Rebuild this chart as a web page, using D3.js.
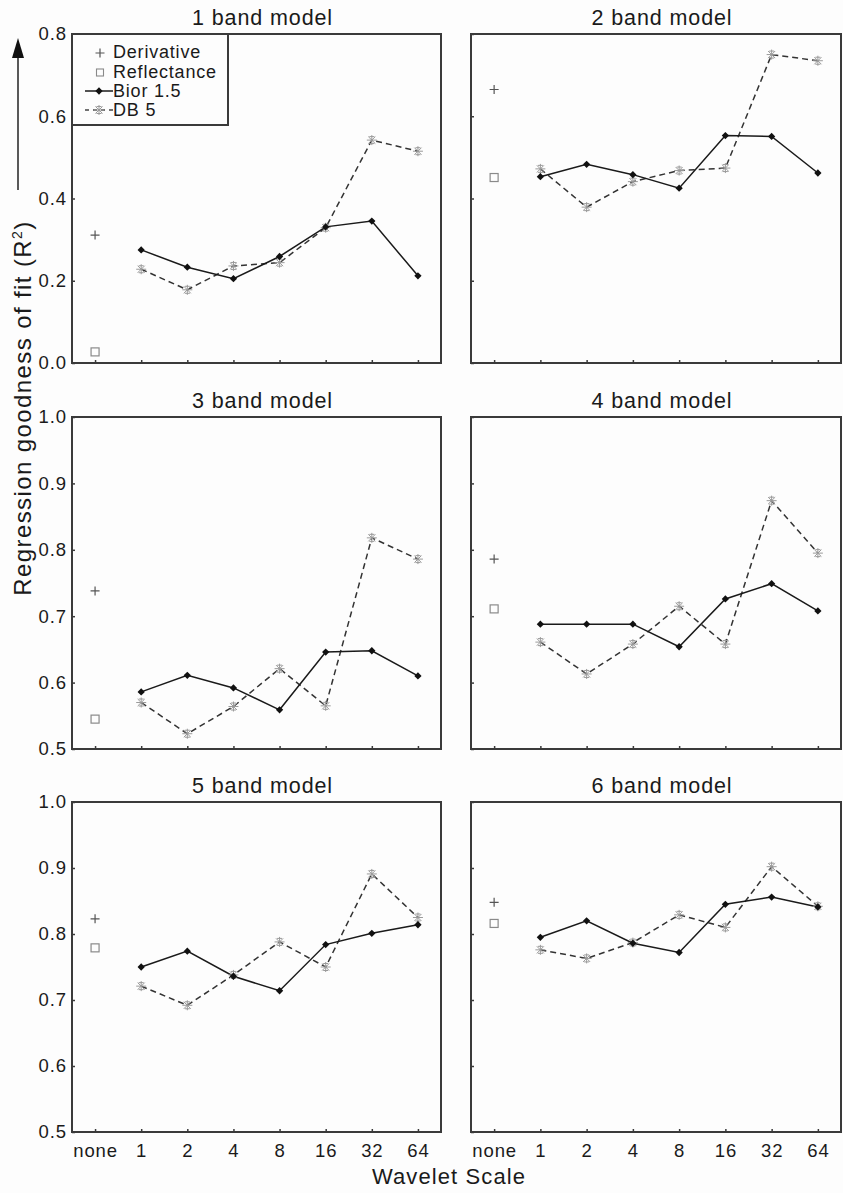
<!DOCTYPE html>
<html><head><meta charset="utf-8">
<script src="https://cdn.jsdelivr.net/npm/d3@7"></script>
<style>body{margin:0;background:#fdfdfd;}svg{display:block;font-family:Arial,"Liberation Sans",sans-serif;}</style>
</head><body>
<svg id="c" width="843" height="1193"></svg>
<script>
const scales = ["none","1","2","4","8","16","32","64"];
const waveletScales = ["1","2","4","8","16","32","64"];
const panelTitles = ["1 band model","2 band model","3 band model","4 band model","5 band model","6 band model"];
const derivative = [0.311, 0.665, 0.738, 0.786, 0.823, 0.848];
const reflectance = [0.027, 0.451, 0.545, 0.711, 0.779, 0.816];
const bior = [
  [0.275,0.233,0.205,0.259,0.331,0.345,0.212],
  [0.453,0.483,0.458,0.425,0.553,0.551,0.462],
  [0.586,0.611,0.592,0.559,0.646,0.648,0.610],
  [0.688,0.688,0.688,0.654,0.726,0.749,0.708],
  [0.750,0.774,0.736,0.714,0.784,0.801,0.814],
  [0.795,0.820,0.786,0.772,0.845,0.856,0.841]
];
const db5 = [
  [0.228,0.178,0.236,0.244,0.329,0.542,0.515],
  [0.472,0.379,0.441,0.468,0.474,0.750,0.735],
  [0.570,0.523,0.564,0.621,0.565,0.818,0.786],
  [0.661,0.613,0.658,0.715,0.658,0.874,0.795],
  [0.721,0.692,0.738,0.788,0.750,0.891,0.825],
  [0.776,0.763,0.787,0.829,0.810,0.902,0.842]
];
const yDomains = [[0,0.8],[0,0.8],[0.5,1.0],[0.5,1.0],[0.5,1.0],[0.5,1.0]];
const yTickValues = [[0,0.2,0.4,0.6,0.8],[0,0.2,0.4,0.6,0.8],[0.5,0.6,0.7,0.8,0.9,1.0],[0.5,0.6,0.7,0.8,0.9,1.0],[0.5,0.6,0.7,0.8,0.9,1.0],[0.5,0.6,0.7,0.8,0.9,1.0]];
const legendLabels = ["Derivative","Reflectance","Bior 1.5","DB 5"];

const svg = d3.select("#c");
svg.append("rect").attr("width",843).attr("height",1193).attr("fill","#fdfdfd");

const colX = [[72,441],[471,841]];
const rowY = [[34,363],[417,749],[802,1132]];
const frameColor = "#3a3a3a";
const txt = "#1a1a1a";

const diamond = d3.symbol().type(d3.symbolDiamond2).size(34)();
function asterisk(g, x, y){
  const r = 5;
  const a = g.append("g").attr("transform",`translate(${x},${y})`).attr("stroke","#9a9a9a").attr("stroke-width",1);
  [0,45,90,135].forEach(ang=>{
    const t = ang*Math.PI/180;
    a.append("line").attr("x1",-r*Math.cos(t)).attr("y1",-r*Math.sin(t)).attr("x2",r*Math.cos(t)).attr("y2",r*Math.sin(t));
  });
  a.append("line").attr("x1",-2.5).attr("x2",2.5).attr("y1",-3.5).attr("y2",-3.5);
  a.append("line").attr("x1",-2.5).attr("x2",2.5).attr("y1",3.5).attr("y2",3.5);
}
function plus(g,x,y,c){
  g.append("path").attr("d","M-4.5,0H4.5M0,-4.5V4.5").attr("transform",`translate(${x},${y})`).attr("stroke",c||"#555").attr("stroke-width",1.2).attr("fill","none");
}
function square(g,x,y){
  g.append("rect").attr("x",x-4).attr("y",y-4).attr("width",8).attr("height",8).attr("fill","none").attr("stroke","#8a8a8a").attr("stroke-width",1.2);
}

panelTitles.forEach((title,i)=>{
  const col = i%2, row = Math.floor(i/2);
  const [x0,x1] = colX[col], [y0,y1] = rowY[row];
  const x = d3.scalePoint().domain(scales).range([x0,x1]).padding(0.5);
  const y = d3.scaleLinear().domain(yDomains[i]).range([y1,y0]);
  const g = svg.append("g");

  g.append("text").attr("x",(x0+x1)/2+6).attr("y",y0-9).attr("text-anchor","middle")
    .attr("font-size",21.5).attr("letter-spacing",0.9).attr("fill",txt).text(title);

  const yAx = d3.axisLeft(y).tickValues(yTickValues[i]).tickFormat(d3.format(".1f")).tickSizeInner(-3).tickSizeOuter(0).tickPadding(col===0?5:0);
  const ya = g.append("g").attr("transform",`translate(${x0},0)`).call(yAx);
  ya.select(".domain").remove();
  ya.selectAll("line").attr("stroke",frameColor).attr("stroke-width",1.5);
  ya.selectAll("text").attr("font-size",18.5).attr("letter-spacing",0.9).attr("fill",txt).attr("font-family","Arial,'Liberation Sans',sans-serif");
  if(col===1) ya.selectAll("text").remove();

  const xAx = d3.axisBottom(x).tickSizeInner(-3).tickSizeOuter(0).tickPadding(12);
  const xa = g.append("g").attr("transform",`translate(0,${y1})`).call(xAx);
  xa.select(".domain").remove();
  xa.selectAll("line").attr("stroke",frameColor).attr("stroke-width",1.5);
  xa.selectAll("text").attr("font-size",18.5).attr("letter-spacing",0.9).attr("fill",txt).attr("font-family","Arial,'Liberation Sans',sans-serif");
  if(row!==2) xa.selectAll("text").remove();

  g.append("rect").attr("x",x0).attr("y",y0).attr("width",x1-x0).attr("height",y1-y0)
    .attr("fill","none").attr("stroke",frameColor).attr("stroke-width",2);

  const line = d3.line().x((d,k)=>x(waveletScales[k])).y(d=>y(d));
  g.append("path").attr("d",line(db5[i])).attr("fill","none").attr("stroke","#333").attr("stroke-width",1.5).attr("stroke-dasharray","6,4");
  g.append("path").attr("d",line(bior[i])).attr("fill","none").attr("stroke","#1a1a1a").attr("stroke-width",1.5);
  db5[i].forEach((d,k)=>asterisk(g,x(waveletScales[k]),y(d)));
  bior[i].forEach((d,k)=>g.append("path").attr("d",diamond).attr("transform",`translate(${x(waveletScales[k])},${y(d)})`).attr("fill","#111"));
  plus(g,x("none"),y(derivative[i]));
  square(g,x("none"),y(reflectance[i]));
});

const lg = svg.append("g");
lg.append("rect").attr("x",72).attr("y",34).attr("width",156).attr("height",91).attr("fill","#fdfdfd").attr("stroke",frameColor).attr("stroke-width",2);
const ly = [52,72,91,110];
legendLabels.forEach((t,k)=>{
  lg.append("text").attr("x",113).attr("y",ly[k]+6).attr("font-size",18).attr("letter-spacing",0.8).attr("fill",txt).text(t);
});
plus(lg,100,ly[0]+1,"#555");
lg.append("rect").attr("x",96.5).attr("y",ly[1]-3).attr("width",7).attr("height",7).attr("fill","none").attr("stroke","#8a8a8a").attr("stroke-width",1.1);
lg.append("line").attr("x1",85).attr("x2",113).attr("y1",ly[2]).attr("y2",ly[2]).attr("stroke","#1a1a1a").attr("stroke-width",1.5);
lg.append("path").attr("d",diamond).attr("transform",`translate(99,${ly[2]})`).attr("fill","#111");
lg.append("line").attr("x1",85).attr("x2",113).attr("y1",ly[3]).attr("y2",ly[3]).attr("stroke","#444").attr("stroke-width",1.3).attr("stroke-dasharray","4,4");
asterisk(lg,99,ly[3]);

svg.append("text").attr("transform","translate(31,408) rotate(-90)").attr("text-anchor","middle")
  .attr("font-size",24).attr("letter-spacing",1.4).attr("fill",txt)
  .html('Regression goodness of fit (R<tspan dy="-9" font-size="14">2</tspan><tspan dy="9">)</tspan>');
svg.append("line").attr("x1",18).attr("x2",18).attr("y1",190).attr("y2",55).attr("stroke","#222").attr("stroke-width",1.5);
svg.append("path").attr("d","M12,58L18,38L24,58Z").attr("fill","#111");

svg.append("text").attr("x",449).attr("y",1184).attr("text-anchor","middle").attr("font-size",22).attr("letter-spacing",1.1).attr("fill",txt).text("Wavelet Scale");
</script>
</body></html>
